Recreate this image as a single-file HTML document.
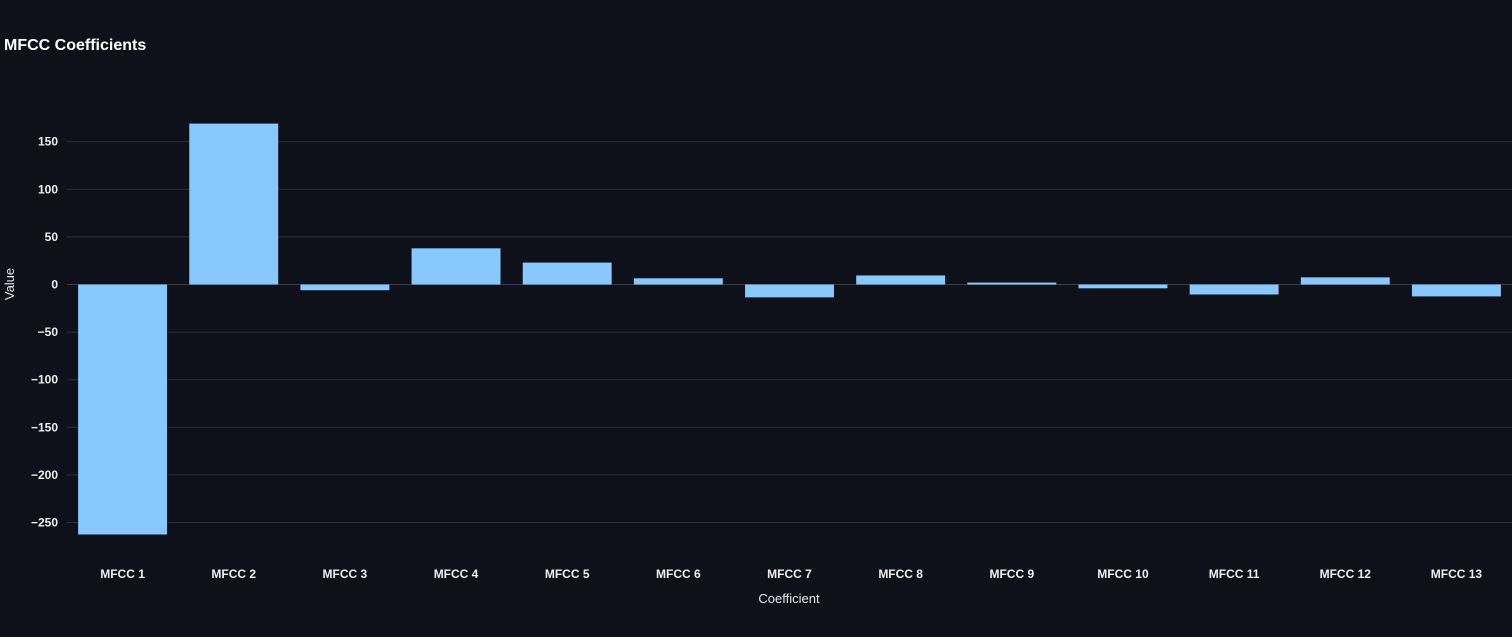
<!DOCTYPE html>
<html><head><meta charset="utf-8"><style>
html,body{margin:0;padding:0;background:#0e1119;}
svg{display:block;font-family:"Liberation Sans",Arial,sans-serif;}
</style></head><body>
<svg id="chart" width="1512" height="637">
<rect width="1512" height="637" fill="#0e1119"/>
<text x="4" y="50" fill="#ffffff" font-size="16" font-weight="bold">MFCC Coefficients</text>
<g id="grid"></g><g id="bars"></g><g id="yticks"></g><g id="xticks"></g>
<text x="14" y="284" fill="#e8e8e8" font-size="13" text-anchor="middle" transform="rotate(-90 14 284)">Value</text>
<text x="789" y="603" fill="#e8e8e8" font-size="13" text-anchor="middle">Coefficient</text>
</svg>
<script>
const categories=["MFCC 1","MFCC 2","MFCC 3","MFCC 4","MFCC 5","MFCC 6","MFCC 7","MFCC 8","MFCC 9","MFCC 10","MFCC 11","MFCC 12","MFCC 13"];
const values=[-262.6,169,-6,38,23,6.5,-13.5,9.5,2,-4,-10.5,7.5,-12.5];
const yTicks=[150,100,50,0,-50,-100,-150,-200,-250];
const ns="http://www.w3.org/2000/svg";
const x0=67,plotW=1445,y0=284.5,k=0.952;
const step=plotW/categories.length;
function ys(v){return y0-v*k;}
function xc(i){return x0+step*(i+0.5);}
function mk(t,a,p){const e=document.createElementNS(ns,t);for(const n in a)e.setAttribute(n,a[n]);p.appendChild(e);return e;}
const g=document.getElementById('grid'),b=document.getElementById('bars'),yt=document.getElementById('yticks'),xt=document.getElementById('xticks');
yTicks.forEach(v=>{
 const l=mk('line',{x1:x0,x2:1512,y1:ys(v),y2:ys(v),stroke:v===0?'#3a3f4a':'#2a2e37','stroke-width':1},g);
 
 
 const t=mk('text',{x:58,y:ys(v)+4,fill:'#f0f0f0','font-size':12,'font-weight':'bold','text-anchor':'end'},yt);
 t.textContent=v<0?'\u2212'+Math.abs(v):String(v);
 
 
});
categories.forEach((c,i)=>{
 const v=values[i],bw=step*0.8;
 const r=mk('rect',{x:xc(i)-bw/2,y:Math.min(ys(v),y0),width:bw,height:Math.abs(v)*k,fill:'#87c9ff'},b);
 
 
 const t=mk('text',{x:xc(i),y:578,fill:'#f0f0f0','font-size':12,'font-weight':'bold','text-anchor':'middle'},xt);
 t.textContent=c;
 
 
});
</script>
</body></html>
